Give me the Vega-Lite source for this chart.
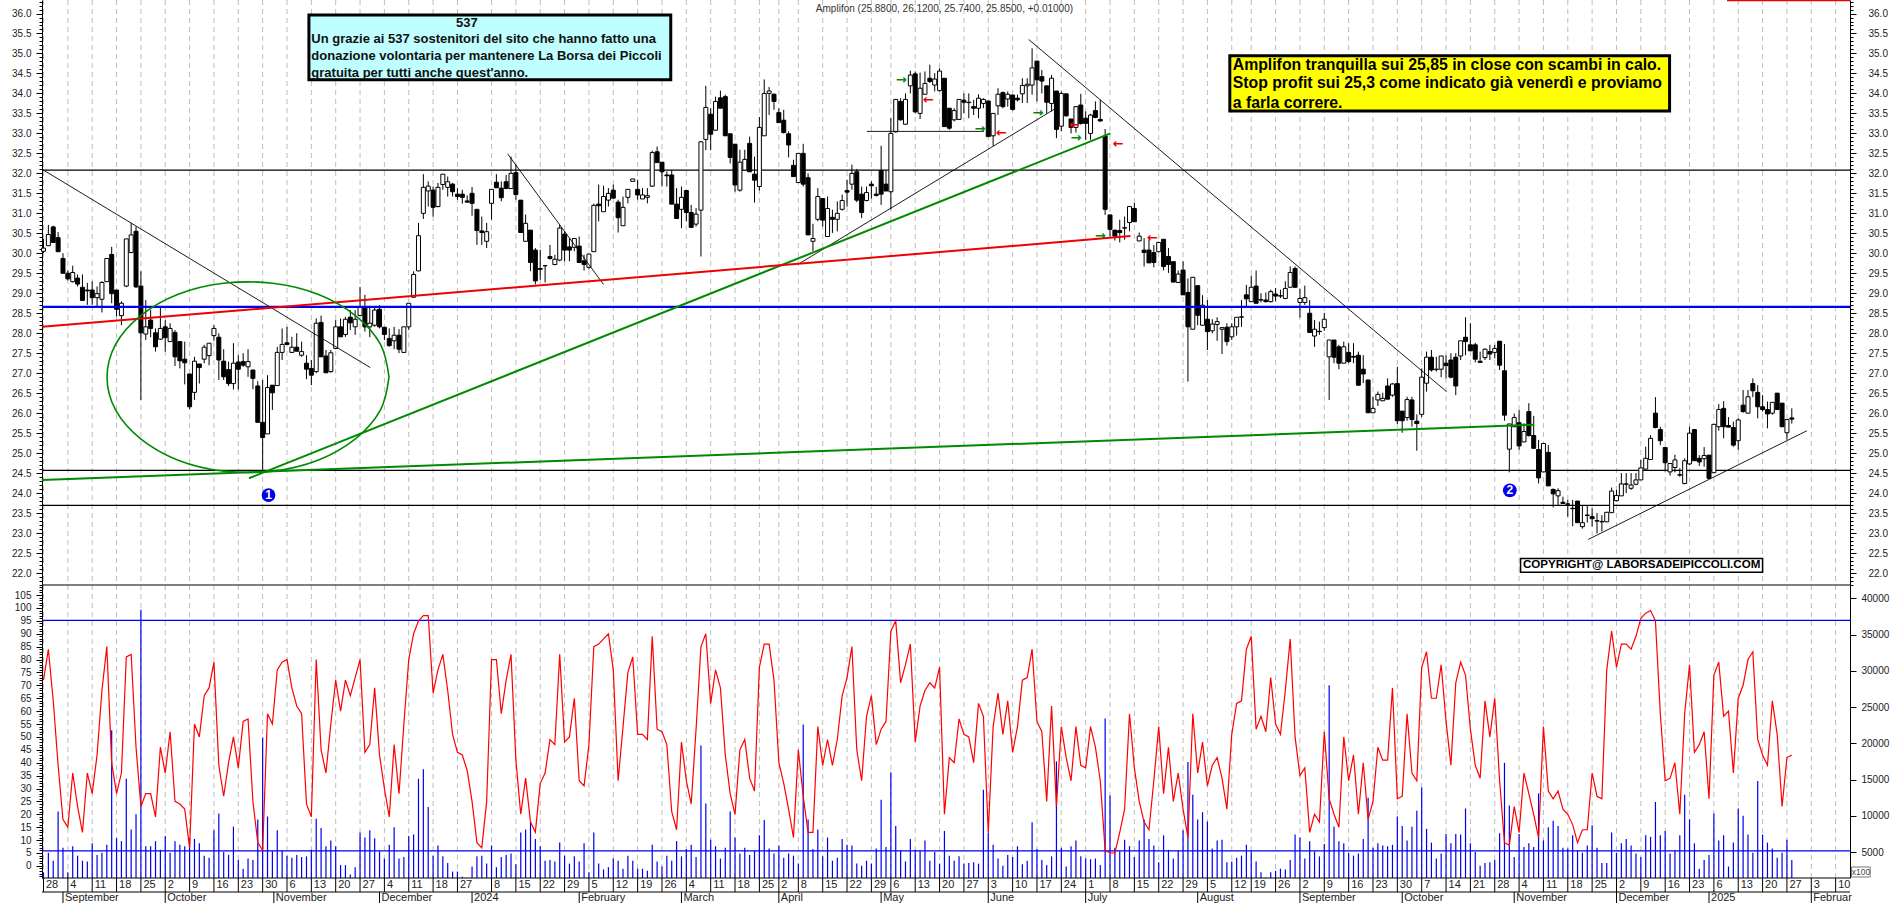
{"$schema":"https://vega.github.io/schema/vega-lite/v6.json","width":1890,"height":903,"padding":0,"autosize":{"type":"none"},"background":"white","config":{"view":{"stroke":null}},
"datasets":{
"weeks":[{"i":0,"t":"28"},{"i":5,"t":"4"},{"i":10,"t":"11"},{"i":15,"t":"18"},{"i":20,"t":"25"},{"i":25,"t":"2"},{"i":30,"t":"9"},{"i":35,"t":"16"},{"i":40,"t":"23"},{"i":45,"t":"30"},{"i":50,"t":"6"},{"i":55,"t":"13"},{"i":60,"t":"20"},{"i":65,"t":"27"},{"i":70,"t":"4"},{"i":75,"t":"11"},{"i":80,"t":"18"},{"i":85,"t":"27"},{"i":92,"t":"8"},{"i":97,"t":"15"},{"i":102,"t":"22"},{"i":107,"t":"29"},{"i":112,"t":"5"},{"i":117,"t":"12"},{"i":122,"t":"19"},{"i":127,"t":"26"},{"i":132,"t":"4"},{"i":137,"t":"11"},{"i":142,"t":"18"},{"i":147,"t":"25"},{"i":151,"t":"2"},{"i":155,"t":"8"},{"i":160,"t":"15"},{"i":165,"t":"22"},{"i":170,"t":"29"},{"i":174,"t":"6"},{"i":179,"t":"13"},{"i":184,"t":"20"},{"i":189,"t":"27"},{"i":194,"t":"3"},{"i":199,"t":"10"},{"i":204,"t":"17"},{"i":209,"t":"24"},{"i":214,"t":"1"},{"i":219,"t":"8"},{"i":224,"t":"15"},{"i":229,"t":"22"},{"i":234,"t":"29"},{"i":239,"t":"5"},{"i":244,"t":"12"},{"i":248,"t":"19"},{"i":253,"t":"26"},{"i":258,"t":"2"},{"i":263,"t":"9"},{"i":268,"t":"16"},{"i":273,"t":"23"},{"i":278,"t":"30"},{"i":283,"t":"7"},{"i":288,"t":"14"},{"i":293,"t":"21"},{"i":298,"t":"28"},{"i":303,"t":"4"},{"i":308,"t":"11"},{"i":313,"t":"18"},{"i":318,"t":"25"},{"i":323,"t":"2"},{"i":328,"t":"9"},{"i":333,"t":"16"},{"i":338,"t":"23"},{"i":343,"t":"6"},{"i":348,"t":"13"},{"i":353,"t":"20"},{"i":358,"t":"27"},{"i":363,"t":"3"},{"i":368,"t":"10"}],
"months":[{"i":4,"t":"September"},{"i":25,"t":"October"},{"i":47.3,"t":"November"},{"i":69,"t":"December"},{"i":88,"t":"2024"},{"i":110,"t":"February"},{"i":131,"t":"March"},{"i":151,"t":"April"},{"i":172,"t":"May"},{"i":194,"t":"June"},{"i":214,"t":"July"},{"i":237,"t":"August"},{"i":258,"t":"September"},{"i":279,"t":"October"},{"i":302,"t":"November"},{"i":323,"t":"December"},{"i":342,"t":"2025"},{"i":363,"t":"Februar"}],
"ellipse":[{"k":0,"i":70.95,"y":26.9},{"k":1,"i":69.2,"y":27.72},{"k":2,"i":64.18,"y":28.43},{"k":3,"i":56.48,"y":28.97},{"k":4,"i":47.03,"y":29.25},{"k":5,"i":36.97,"y":29.25},{"k":6,"i":27.52,"y":28.97},{"k":7,"i":19.82,"y":28.43},{"k":8,"i":14.8,"y":27.72},{"k":9,"i":13.05,"y":26.9},{"k":10,"i":14.8,"y":26.08},{"k":11,"i":19.82,"y":25.37},{"k":12,"i":27.52,"y":24.83},{"k":13,"i":36.97,"y":24.55},{"k":14,"i":47.03,"y":24.55},{"k":15,"i":56.48,"y":24.83},{"k":16,"i":64.18,"y":25.37},{"k":17,"i":69.2,"y":26.08},{"k":18,"i":70.95,"y":26.9}],
"rows":[
{"i":0,"o":30.05,"h":30.36,"l":30.01,"c":30.13,"v":2200,"s":72},{"i":1,"o":30.19,"h":30.71,"l":30.19,"c":30.47,"v":4900,"s":84},{"i":2,"o":30.66,"h":30.69,"l":30.27,"c":30.27,"v":3800,"s":64},{"i":3,"o":30.39,"h":30.53,"l":30.04,"c":30.04,"v":10600,"s":39},{"i":4,"o":29.87,"h":30.0,"l":29.5,"c":29.5,"v":5600,"s":18},{"i":5,"o":29.5,"h":29.57,"l":29.32,"c":29.36,"v":2200,"s":15},{"i":6,"o":29.29,"h":29.69,"l":29.27,"c":29.52,"v":5800,"s":36},{"i":7,"o":29.38,"h":29.47,"l":29.17,"c":29.23,"v":4500,"s":23},{"i":8,"o":29.15,"h":29.47,"l":28.82,"c":28.82,"v":3800,"s":13},{"i":9,"o":29.08,"h":29.26,"l":28.71,"c":29.06,"v":3700,"s":36},{"i":10,"o":29.08,"h":29.3,"l":28.71,"c":28.89,"v":6200,"s":28},{"i":11,"o":28.89,"h":29.17,"l":28.67,"c":28.99,"v":4600,"s":43},{"i":12,"o":28.85,"h":29.3,"l":28.52,"c":29.27,"v":4900,"s":68},{"i":13,"o":29.29,"h":29.87,"l":29.29,"c":29.87,"v":6000,"s":85},{"i":14,"o":29.97,"h":30.16,"l":28.75,"c":28.99,"v":21800,"s":40},{"i":15,"o":29.08,"h":29.08,"l":28.42,"c":28.6,"v":6900,"s":28},{"i":16,"o":28.44,"h":28.8,"l":28.2,"c":28.75,"v":6500,"s":36},{"i":17,"o":29.18,"h":30.36,"l":29.15,"c":30.36,"v":15100,"s":81},{"i":18,"o":30.02,"h":30.76,"l":30.0,"c":30.46,"v":8100,"s":82},{"i":19,"o":30.55,"h":30.67,"l":29.13,"c":29.16,"v":10200,"s":46},{"i":20,"o":29.18,"h":29.55,"l":26.33,"c":28.01,"v":38400,"s":23},{"i":21,"o":27.98,"h":28.83,"l":27.83,"c":28.16,"v":5800,"s":28},{"i":22,"o":28.33,"h":28.58,"l":27.9,"c":28.12,"v":5800,"s":28},{"i":23,"o":28.01,"h":28.12,"l":27.54,"c":27.66,"v":6500,"s":19},{"i":24,"o":27.85,"h":28.67,"l":27.83,"c":28.12,"v":5300,"s":46},{"i":25,"o":28.16,"h":28.33,"l":27.54,"c":27.89,"v":7200,"s":36},{"i":26,"o":27.79,"h":28.25,"l":27.79,"c":28.12,"v":4900,"s":52},{"i":27,"o":28.02,"h":28.08,"l":27.18,"c":27.41,"v":6500,"s":25},{"i":28,"o":27.79,"h":27.79,"l":27.12,"c":27.31,"v":6000,"s":24},{"i":29,"o":27.35,"h":27.79,"l":26.72,"c":27.26,"v":5800,"s":22},{"i":30,"o":26.98,"h":26.98,"l":26.1,"c":26.16,"v":6900,"s":7},{"i":31,"o":26.52,"h":27.41,"l":26.33,"c":27.3,"v":6800,"s":55},{"i":32,"o":27.23,"h":27.23,"l":26.74,"c":27.14,"v":6200,"s":50},{"i":33,"o":27.35,"h":27.71,"l":27.25,"c":27.65,"v":4500,"s":66},{"i":34,"o":27.44,"h":27.75,"l":27.2,"c":27.75,"v":4200,"s":69},{"i":35,"o":27.94,"h":28.2,"l":27.81,"c":28.12,"v":8000,"s":79},{"i":36,"o":27.9,"h":28.0,"l":26.83,"c":27.33,"v":10300,"s":39},{"i":37,"o":27.3,"h":27.6,"l":26.83,"c":26.91,"v":5000,"s":27},{"i":38,"o":27.09,"h":27.29,"l":26.68,"c":26.74,"v":4600,"s":40},{"i":39,"o":26.74,"h":27.75,"l":26.59,"c":27.25,"v":8500,"s":50},{"i":40,"o":27.28,"h":27.45,"l":26.59,"c":27.1,"v":3900,"s":38},{"i":41,"o":27.29,"h":27.5,"l":27.16,"c":27.2,"v":2700,"s":56},{"i":42,"o":27.16,"h":27.6,"l":26.91,"c":27.29,"v":4100,"s":57},{"i":43,"o":27.08,"h":27.08,"l":26.6,"c":26.87,"v":3900,"s":25},{"i":44,"o":26.68,"h":26.8,"l":25.77,"c":25.77,"v":9500,"s":9},{"i":45,"o":25.77,"h":26.83,"l":24.58,"c":25.39,"v":20800,"s":6},{"i":46,"o":25.48,"h":26.95,"l":25.48,"c":26.64,"v":9900,"s":59},{"i":47,"o":26.7,"h":26.7,"l":26.08,"c":26.51,"v":5100,"s":55},{"i":48,"o":26.69,"h":27.66,"l":26.69,"c":27.52,"v":8000,"s":76},{"i":49,"o":27.52,"h":28.12,"l":27.33,"c":27.72,"v":5200,"s":79},
{"i":50,"o":27.76,"h":28.16,"l":27.72,"c":27.72,"v":4500,"s":80},{"i":51,"o":27.52,"h":27.91,"l":27.51,"c":27.65,"v":4200,"s":69},{"i":52,"o":27.65,"h":28.0,"l":27.54,"c":27.55,"v":4600,"s":62},{"i":53,"o":27.45,"h":27.79,"l":27.41,"c":27.54,"v":4300,"s":59},{"i":54,"o":27.25,"h":27.45,"l":26.85,"c":27.1,"v":4400,"s":24},{"i":55,"o":27.12,"h":27.33,"l":26.7,"c":26.95,"v":5300,"s":19},{"i":56,"o":27.04,"h":28.37,"l":27.0,"c":28.25,"v":9600,"s":80},{"i":57,"o":28.27,"h":28.44,"l":27.41,"c":27.41,"v":8300,"s":45},{"i":58,"o":27.43,"h":27.58,"l":27.01,"c":27.01,"v":5800,"s":36},{"i":59,"o":27.04,"h":27.58,"l":27.01,"c":27.51,"v":6600,"s":55},{"i":60,"o":27.62,"h":28.33,"l":27.6,"c":28.16,"v":5800,"s":72},{"i":61,"o":28.16,"h":28.37,"l":27.91,"c":27.91,"v":3200,"s":60},{"i":62,"o":27.97,"h":28.41,"l":27.91,"c":28.35,"v":3200,"s":72},{"i":63,"o":28.4,"h":28.58,"l":28.08,"c":28.26,"v":1900,"s":66},{"i":64,"o":28.16,"h":28.58,"l":27.96,"c":28.35,"v":2900,"s":73},{"i":65,"o":28.44,"h":29.16,"l":28.44,"c":28.66,"v":7700,"s":80},{"i":66,"o":28.66,"h":28.96,"l":28.04,"c":28.16,"v":7000,"s":44},{"i":67,"o":28.16,"h":28.66,"l":27.9,"c":28.25,"v":8000,"s":47},{"i":68,"o":28.2,"h":28.66,"l":28.16,"c":28.58,"v":6900,"s":69},{"i":69,"o":28.6,"h":28.7,"l":28.12,"c":28.16,"v":5100,"s":43},{"i":70,"o":28.15,"h":28.15,"l":27.83,"c":27.97,"v":4100,"s":30},{"i":71,"o":27.87,"h":28.12,"l":27.66,"c":27.69,"v":6000,"s":19},{"i":72,"o":27.81,"h":28.16,"l":27.6,"c":27.95,"v":8400,"s":47},{"i":73,"o":27.95,"h":28.1,"l":27.5,"c":27.6,"v":4100,"s":28},{"i":74,"o":27.52,"h":28.16,"l":27.52,"c":28.16,"v":4300,"s":55},{"i":75,"o":28.16,"h":28.75,"l":28.08,"c":28.75,"v":7200,"s":80},{"i":76,"o":28.9,"h":29.55,"l":28.9,"c":29.47,"v":7400,"s":90},{"i":77,"o":29.56,"h":30.76,"l":29.55,"c":30.44,"v":15100,"s":95},{"i":78,"o":31.0,"h":31.98,"l":30.86,"c":31.65,"v":16400,"s":97},{"i":79,"o":31.56,"h":31.8,"l":31.17,"c":31.68,"v":11200,"s":97},{"i":80,"o":31.58,"h":31.67,"l":30.92,"c":31.15,"v":4500,"s":67},{"i":81,"o":31.17,"h":31.76,"l":31.15,"c":31.65,"v":5900,"s":76},{"i":82,"o":31.72,"h":31.98,"l":31.59,"c":31.98,"v":4400,"s":82},{"i":83,"o":31.65,"h":31.92,"l":31.42,"c":31.79,"v":3500,"s":68},{"i":84,"o":31.73,"h":31.76,"l":31.42,"c":31.54,"v":2300,"s":51},{"i":85,"o":31.48,"h":31.63,"l":31.34,"c":31.42,"v":2300,"s":44},{"i":86,"o":31.48,"h":31.59,"l":31.24,"c":31.4,"v":1600,"s":43},{"i":87,"o":31.31,"h":31.45,"l":31.27,"c":31.28,"v":1400,"s":37},{"i":88,"o":31.5,"h":31.66,"l":30.94,"c":31.25,"v":3000,"s":25},{"i":89,"o":31.1,"h":31.1,"l":30.21,"c":30.57,"v":4400,"s":9},{"i":90,"o":30.56,"h":30.92,"l":30.21,"c":30.52,"v":4500,"s":7},{"i":91,"o":30.3,"h":30.76,"l":30.13,"c":30.54,"v":3400,"s":25},{"i":92,"o":31.25,"h":31.6,"l":30.84,"c":31.6,"v":5900,"s":80},{"i":93,"o":31.78,"h":31.98,"l":31.63,"c":31.64,"v":2900,"s":80},{"i":94,"o":31.63,"h":31.8,"l":31.3,"c":31.39,"v":4300,"s":59},{"i":95,"o":31.79,"h":31.96,"l":31.62,"c":31.62,"v":4600,"s":72},{"i":96,"o":31.62,"h":32.42,"l":31.62,"c":32.0,"v":4800,"s":82},{"i":97,"o":32.02,"h":32.22,"l":31.34,"c":31.47,"v":3300,"s":41},{"i":98,"o":31.33,"h":31.33,"l":30.52,"c":30.52,"v":7700,"s":20},{"i":99,"o":30.3,"h":30.97,"l":30.3,"c":30.75,"v":8100,"s":34},
{"i":100,"o":30.58,"h":30.58,"l":29.55,"c":29.77,"v":9200,"s":17},{"i":101,"o":30.08,"h":30.13,"l":29.22,"c":29.31,"v":6800,"s":13},{"i":102,"o":29.62,"h":30.09,"l":29.34,"c":29.6,"v":5800,"s":32},{"i":103,"o":29.69,"h":29.7,"l":29.27,"c":29.69,"v":3800,"s":36},{"i":104,"o":29.92,"h":30.21,"l":29.84,"c":29.87,"v":3900,"s":49},{"i":105,"o":29.72,"h":29.96,"l":29.7,"c":29.85,"v":3700,"s":47},{"i":106,"o":29.83,"h":30.71,"l":29.8,"c":30.63,"v":6300,"s":82},{"i":107,"o":30.48,"h":30.55,"l":29.8,"c":30.08,"v":4500,"s":48},{"i":108,"o":30.16,"h":30.38,"l":29.8,"c":30.08,"v":3400,"s":50},{"i":109,"o":30.15,"h":30.37,"l":30.05,"c":30.37,"v":4400,"s":65},{"i":110,"o":30.18,"h":30.42,"l":29.76,"c":29.77,"v":3700,"s":33},{"i":111,"o":29.81,"h":29.96,"l":29.57,"c":29.72,"v":6200,"s":31},{"i":112,"o":29.65,"h":29.98,"l":29.6,"c":29.98,"v":2200,"s":47},{"i":113,"o":30.04,"h":31.24,"l":30.04,"c":31.2,"v":7700,"s":85},{"i":114,"o":31.23,"h":31.72,"l":30.8,"c":31.19,"v":3400,"s":86},{"i":115,"o":31.04,"h":31.69,"l":31.04,"c":31.42,"v":2600,"s":88},{"i":116,"o":31.33,"h":31.63,"l":31.17,"c":31.5,"v":2900,"s":90},{"i":117,"o":31.58,"h":31.72,"l":31.38,"c":31.38,"v":4100,"s":76},{"i":118,"o":31.28,"h":31.34,"l":30.52,"c":30.89,"v":3800,"s":33},{"i":119,"o":30.69,"h":31.42,"l":30.69,"c":31.15,"v":2700,"s":54},{"i":120,"o":31.4,"h":31.6,"l":31.25,"c":31.6,"v":4500,"s":75},{"i":121,"o":31.8,"h":31.86,"l":31.8,"c":31.86,"v":3800,"s":81},{"i":122,"o":31.6,"h":31.84,"l":31.34,"c":31.46,"v":2700,"s":51},{"i":123,"o":31.36,"h":31.63,"l":31.36,"c":31.46,"v":2700,"s":51},{"i":124,"o":31.4,"h":31.63,"l":31.25,"c":31.44,"v":2400,"s":49},{"i":125,"o":31.68,"h":32.57,"l":31.66,"c":32.52,"v":6000,"s":89},{"i":126,"o":32.54,"h":32.67,"l":32.26,"c":32.27,"v":3700,"s":53},{"i":127,"o":32.28,"h":32.28,"l":31.67,"c":32.04,"v":3000,"s":52},{"i":128,"o":31.96,"h":32.05,"l":31.67,"c":31.94,"v":4500,"s":47},{"i":129,"o":31.96,"h":32.09,"l":31.23,"c":31.23,"v":3800,"s":21},{"i":130,"o":31.23,"h":31.63,"l":30.87,"c":30.87,"v":6500,"s":14},{"i":131,"o":31.1,"h":31.67,"l":30.63,"c":31.4,"v":4400,"s":48},{"i":132,"o":31.57,"h":31.59,"l":30.8,"c":31.02,"v":5400,"s":33},{"i":133,"o":31.02,"h":31.21,"l":30.63,"c":30.65,"v":6000,"s":24},{"i":134,"o":30.73,"h":31.13,"l":30.67,"c":30.98,"v":4300,"s":53},{"i":135,"o":31.08,"h":32.79,"l":29.92,"c":32.79,"v":19700,"s":85},{"i":136,"o":32.85,"h":34.19,"l":32.58,"c":33.65,"v":11700,"s":90},{"i":137,"o":33.48,"h":33.63,"l":32.58,"c":32.98,"v":6700,"s":63},{"i":138,"o":33.08,"h":33.92,"l":33.07,"c":33.8,"v":5800,"s":76},{"i":139,"o":33.89,"h":34.07,"l":33.63,"c":33.63,"v":4100,"s":69},{"i":140,"o":33.92,"h":33.97,"l":32.94,"c":32.94,"v":5600,"s":43},{"i":141,"o":32.99,"h":32.99,"l":32.25,"c":32.4,"v":10600,"s":28},{"i":142,"o":32.73,"h":32.73,"l":31.54,"c":31.71,"v":7000,"s":20},{"i":143,"o":31.58,"h":32.59,"l":31.54,"c":32.28,"v":4800,"s":45},{"i":144,"o":32.08,"h":32.59,"l":32.08,"c":32.35,"v":5600,"s":49},{"i":145,"o":32.75,"h":32.92,"l":32.04,"c":32.04,"v":4600,"s":34},{"i":146,"o":31.98,"h":32.42,"l":31.27,"c":31.83,"v":5200,"s":29},{"i":147,"o":31.67,"h":33.41,"l":31.57,"c":33.15,"v":7300,"s":77},{"i":148,"o":32.94,"h":34.35,"l":32.94,"c":34.0,"v":9400,"s":86},{"i":149,"o":34.0,"h":34.16,"l":33.46,"c":34.06,"v":5500,"s":86},
{"i":150,"o":33.98,"h":34.0,"l":33.59,"c":33.8,"v":4800,"s":72},{"i":151,"o":33.52,"h":33.63,"l":33.27,"c":33.27,"v":5900,"s":40},{"i":152,"o":33.33,"h":33.59,"l":33.0,"c":33.02,"v":4200,"s":32},{"i":153,"o":32.99,"h":33.05,"l":32.4,"c":32.71,"v":4800,"s":22},{"i":154,"o":32.2,"h":32.34,"l":31.92,"c":31.92,"v":4500,"s":11},{"i":155,"o":31.77,"h":32.5,"l":31.76,"c":32.5,"v":3400,"s":45},{"i":156,"o":32.5,"h":32.74,"l":31.67,"c":31.73,"v":22600,"s":27},{"i":157,"o":31.89,"h":32.0,"l":30.46,"c":30.46,"v":9500,"s":13},{"i":158,"o":30.3,"h":30.74,"l":30.05,"c":30.37,"v":5400,"s":13},{"i":159,"o":30.85,"h":31.63,"l":30.8,"c":31.42,"v":8100,"s":54},{"i":160,"o":31.37,"h":31.37,"l":30.67,"c":30.83,"v":4400,"s":39},{"i":161,"o":30.42,"h":31.42,"l":30.41,"c":31.12,"v":7000,"s":49},{"i":162,"o":30.9,"h":31.09,"l":30.51,"c":30.85,"v":3800,"s":39},{"i":163,"o":30.85,"h":31.3,"l":30.55,"c":31.0,"v":4200,"s":49},{"i":164,"o":31.1,"h":31.47,"l":31.07,"c":31.32,"v":6800,"s":66},{"i":165,"o":31.57,"h":31.84,"l":31.17,"c":31.53,"v":6000,"s":73},{"i":166,"o":31.73,"h":32.22,"l":31.59,"c":32.0,"v":5900,"s":85},{"i":167,"o":32.04,"h":32.11,"l":31.28,"c":31.33,"v":3400,"s":45},{"i":168,"o":31.48,"h":31.67,"l":30.88,"c":31.02,"v":3100,"s":33},{"i":169,"o":31.32,"h":31.67,"l":31.3,"c":31.52,"v":3800,"s":58},{"i":170,"o":31.73,"h":31.8,"l":31.37,"c":31.69,"v":3400,"s":66},{"i":171,"o":31.48,"h":31.66,"l":31.42,"c":31.45,"v":5500,"s":47},{"i":172,"o":32.07,"h":32.69,"l":31.21,"c":31.48,"v":12200,"s":53},{"i":173,"o":31.73,"h":32.07,"l":31.55,"c":31.56,"v":5700,"s":56},{"i":174,"o":31.54,"h":33.38,"l":31.1,"c":33.0,"v":16000,"s":91},{"i":175,"o":33.04,"h":33.85,"l":33.02,"c":33.85,"v":8600,"s":95},{"i":176,"o":33.8,"h":33.88,"l":33.32,"c":33.34,"v":5200,"s":71},{"i":177,"o":33.23,"h":34.0,"l":33.22,"c":33.85,"v":3700,"s":78},{"i":178,"o":34.19,"h":34.57,"l":34.0,"c":34.46,"v":6800,"s":86},{"i":179,"o":34.49,"h":34.55,"l":33.5,"c":33.54,"v":5300,"s":48},{"i":180,"o":33.5,"h":34.52,"l":33.36,"c":34.13,"v":5200,"s":62},{"i":181,"o":33.98,"h":34.55,"l":33.98,"c":34.25,"v":6600,"s":68},{"i":182,"o":34.38,"h":34.72,"l":34.26,"c":34.3,"v":3800,"s":71},{"i":183,"o":34.21,"h":34.51,"l":34.05,"c":34.36,"v":5000,"s":69},{"i":184,"o":34.07,"h":34.63,"l":34.05,"c":34.56,"v":3400,"s":77},{"i":185,"o":34.38,"h":34.38,"l":33.17,"c":33.17,"v":7900,"s":20},{"i":186,"o":33.63,"h":33.63,"l":33.09,"c":33.13,"v":4500,"s":42},{"i":187,"o":33.34,"h":33.63,"l":33.3,"c":33.57,"v":3800,"s":40},{"i":188,"o":33.35,"h":33.85,"l":33.35,"c":33.85,"v":4400,"s":57},{"i":189,"o":33.83,"h":34.0,"l":33.5,"c":33.78,"v":3400,"s":51},{"i":190,"o":33.78,"h":34.0,"l":33.38,"c":33.77,"v":3500,"s":50},{"i":191,"o":33.67,"h":33.84,"l":33.46,"c":33.63,"v":3600,"s":40},{"i":192,"o":33.63,"h":33.98,"l":33.38,"c":33.88,"v":3400,"s":63},{"i":193,"o":33.75,"h":33.88,"l":33.63,"c":33.85,"v":13600,"s":58},{"i":194,"o":33.81,"h":33.81,"l":32.92,"c":32.92,"v":7700,"s":13},{"i":195,"o":32.94,"h":33.5,"l":32.69,"c":33.5,"v":6000,"s":54},{"i":196,"o":33.69,"h":34.13,"l":33.46,"c":33.98,"v":4100,"s":67},{"i":197,"o":34.02,"h":34.05,"l":33.63,"c":33.67,"v":3100,"s":51},{"i":198,"o":33.86,"h":34.05,"l":33.67,"c":33.98,"v":4600,"s":64},{"i":199,"o":33.96,"h":33.96,"l":33.57,"c":33.6,"v":4300,"s":44},
{"i":200,"o":33.88,"h":33.97,"l":33.8,"c":33.84,"v":5800,"s":54},{"i":201,"o":33.99,"h":34.38,"l":33.76,"c":34.2,"v":3300,"s":72},{"i":202,"o":34.19,"h":34.38,"l":33.76,"c":34.23,"v":3800,"s":73},{"i":203,"o":34.21,"h":35.13,"l":33.97,"c":34.64,"v":9100,"s":84},{"i":204,"o":34.81,"h":34.81,"l":33.8,"c":34.34,"v":5400,"s":56},{"i":205,"o":34.42,"h":34.59,"l":34.0,"c":34.31,"v":3900,"s":52},{"i":206,"o":34.19,"h":34.19,"l":33.5,"c":33.78,"v":3200,"s":25},{"i":207,"o":33.75,"h":34.46,"l":33.55,"c":34.38,"v":4400,"s":62},{"i":208,"o":34.06,"h":34.06,"l":32.88,"c":33.1,"v":17500,"s":23},{"i":209,"o":33.18,"h":34.05,"l":33.05,"c":34.0,"v":5600,"s":54},{"i":210,"o":33.99,"h":33.99,"l":33.42,"c":33.44,"v":3000,"s":42},{"i":211,"o":33.36,"h":33.36,"l":33.0,"c":33.15,"v":5800,"s":33},{"i":212,"o":33.15,"h":33.67,"l":33.02,"c":33.67,"v":6600,"s":54},{"i":213,"o":33.71,"h":33.99,"l":33.22,"c":33.25,"v":4400,"s":39},{"i":214,"o":33.38,"h":33.55,"l":32.84,"c":33.25,"v":4100,"s":38},{"i":215,"o":33.0,"h":33.49,"l":32.84,"c":33.46,"v":4000,"s":54},{"i":216,"o":33.57,"h":33.8,"l":33.38,"c":33.4,"v":4100,"s":46},{"i":217,"o":33.35,"h":33.84,"l":33.3,"c":33.31,"v":3200,"s":33},{"i":218,"o":32.94,"h":33.11,"l":30.96,"c":31.1,"v":23400,"s":6},{"i":219,"o":30.96,"h":30.96,"l":30.42,"c":30.6,"v":12800,"s":5},{"i":220,"o":30.58,"h":30.58,"l":30.32,"c":30.43,"v":5600,"s":5},{"i":221,"o":30.57,"h":30.84,"l":30.27,"c":30.52,"v":5100,"s":13},{"i":222,"o":30.64,"h":30.92,"l":30.34,"c":30.63,"v":6700,"s":22},{"i":223,"o":30.77,"h":31.17,"l":30.55,"c":31.17,"v":5800,"s":59},{"i":224,"o":31.12,"h":31.26,"l":30.79,"c":30.79,"v":4300,"s":38},{"i":225,"o":30.31,"h":30.52,"l":30.3,"c":30.43,"v":6600,"s":25},{"i":226,"o":30.08,"h":30.38,"l":29.67,"c":30.02,"v":9500,"s":17},{"i":227,"o":30.08,"h":30.34,"l":29.76,"c":29.76,"v":6800,"s":14},{"i":228,"o":30.02,"h":30.21,"l":29.65,"c":29.77,"v":5900,"s":33},{"i":229,"o":30.04,"h":30.29,"l":30.04,"c":30.27,"v":3600,"s":54},{"i":230,"o":30.35,"h":30.35,"l":29.57,"c":29.67,"v":7300,"s":28},{"i":231,"o":29.92,"h":30.13,"l":29.51,"c":29.72,"v":5300,"s":46},{"i":232,"o":29.79,"h":29.79,"l":29.27,"c":29.28,"v":4100,"s":25},{"i":233,"o":29.27,"h":29.57,"l":29.27,"c":29.48,"v":5200,"s":36},{"i":234,"o":29.58,"h":29.8,"l":28.96,"c":28.96,"v":8000,"s":22},{"i":235,"o":29.02,"h":29.37,"l":26.79,"c":28.16,"v":17400,"s":11},{"i":236,"o":28.1,"h":29.4,"l":28.1,"c":29.4,"v":12900,"s":59},{"i":237,"o":29.19,"h":29.19,"l":28.2,"c":28.45,"v":9500,"s":36},{"i":238,"o":28.2,"h":28.95,"l":28.2,"c":28.7,"v":10500,"s":48},{"i":239,"o":28.35,"h":28.83,"l":27.58,"c":28.04,"v":9200,"s":31},{"i":240,"o":28.06,"h":28.35,"l":28.0,"c":28.23,"v":5500,"s":39},{"i":241,"o":28.22,"h":28.4,"l":27.81,"c":28.29,"v":6600,"s":42},{"i":242,"o":28.1,"h":28.15,"l":27.48,"c":28.14,"v":6700,"s":34},{"i":243,"o":28.15,"h":28.25,"l":27.69,"c":27.79,"v":3600,"s":22},{"i":244,"o":27.91,"h":28.25,"l":27.83,"c":28.16,"v":3700,"s":51},{"i":245,"o":28.16,"h":28.4,"l":27.94,"c":28.4,"v":4200,"s":63},{"i":246,"o":28.4,"h":28.83,"l":28.16,"c":28.41,"v":4500,"s":64},{"i":247,"o":28.96,"h":29.21,"l":28.63,"c":28.86,"v":6000,"s":84},{"i":248,"o":28.79,"h":29.44,"l":28.79,"c":29.15,"v":5100,"s":89},{"i":249,"o":29.18,"h":29.57,"l":28.75,"c":28.75,"v":3700,"s":53},
{"i":250,"o":28.83,"h":29.0,"l":28.77,"c":28.84,"v":2200,"s":58},{"i":251,"o":28.83,"h":29.02,"l":28.77,"c":28.79,"v":1500,"s":52},{"i":252,"o":28.79,"h":29.09,"l":28.77,"c":29.04,"v":2200,"s":73},{"i":253,"o":28.98,"h":29.13,"l":28.8,"c":28.93,"v":2400,"s":55},{"i":254,"o":28.93,"h":29.09,"l":28.88,"c":28.94,"v":2700,"s":51},{"i":255,"o":28.87,"h":29.3,"l":28.85,"c":29.12,"v":2600,"s":68},{"i":256,"o":29.15,"h":29.67,"l":29.13,"c":29.52,"v":3900,"s":88},{"i":257,"o":29.62,"h":29.67,"l":29.13,"c":29.15,"v":7400,"s":50},{"i":258,"o":28.77,"h":29.11,"l":28.39,"c":28.87,"v":7000,"s":35},{"i":259,"o":28.77,"h":29.19,"l":28.71,"c":28.89,"v":4100,"s":38},{"i":260,"o":28.5,"h":28.83,"l":28.02,"c":28.02,"v":6500,"s":13},{"i":261,"o":27.93,"h":28.33,"l":27.66,"c":28.1,"v":5100,"s":20},{"i":262,"o":28.05,"h":28.29,"l":27.96,"c":28.04,"v":4400,"s":17},{"i":263,"o":28.14,"h":28.51,"l":28.06,"c":28.35,"v":6100,"s":52},{"i":264,"o":27.41,"h":27.83,"l":26.33,"c":27.83,"v":28000,"s":26},{"i":265,"o":27.83,"h":27.83,"l":27.25,"c":27.4,"v":8500,"s":20},{"i":266,"o":27.66,"h":27.71,"l":27.1,"c":27.25,"v":6500,"s":15},{"i":267,"o":27.25,"h":27.79,"l":27.25,"c":27.66,"v":6200,"s":50},{"i":268,"o":27.52,"h":27.75,"l":27.25,"c":27.29,"v":4900,"s":33},{"i":269,"o":27.42,"h":27.75,"l":27.25,"c":27.4,"v":4500,"s":43},{"i":270,"o":27.45,"h":27.54,"l":26.68,"c":26.7,"v":4800,"s":20},{"i":271,"o":27.1,"h":27.45,"l":26.75,"c":26.98,"v":6800,"s":40},{"i":272,"o":26.83,"h":26.83,"l":26.01,"c":26.01,"v":12500,"s":18},{"i":273,"o":26.01,"h":26.41,"l":26.01,"c":26.12,"v":5600,"s":25},{"i":274,"o":26.33,"h":26.54,"l":26.18,"c":26.47,"v":6200,"s":46},{"i":275,"o":26.31,"h":26.51,"l":26.3,"c":26.37,"v":5900,"s":41},{"i":276,"o":26.68,"h":26.87,"l":26.35,"c":26.35,"v":5800,"s":41},{"i":277,"o":26.45,"h":26.75,"l":26.41,"c":26.73,"v":6000,"s":69},{"i":278,"o":26.74,"h":27.16,"l":25.73,"c":25.81,"v":9900,"s":26},{"i":279,"o":26.05,"h":26.05,"l":25.51,"c":25.81,"v":8600,"s":27},{"i":280,"o":25.89,"h":26.41,"l":25.81,"c":26.34,"v":6600,"s":59},{"i":281,"o":26.33,"h":26.41,"l":25.66,"c":25.84,"v":8500,"s":36},{"i":282,"o":25.8,"h":25.97,"l":25.06,"c":25.74,"v":10700,"s":33},{"i":283,"o":25.97,"h":27.12,"l":25.9,"c":26.9,"v":13900,"s":77},{"i":284,"o":26.75,"h":27.54,"l":26.54,"c":27.4,"v":8200,"s":83},{"i":285,"o":27.4,"h":27.58,"l":27.04,"c":27.08,"v":6300,"s":65},{"i":286,"o":27.1,"h":27.41,"l":27.04,"c":27.09,"v":4100,"s":65},{"i":287,"o":27.1,"h":27.43,"l":26.9,"c":27.43,"v":4800,"s":78},{"i":288,"o":27.25,"h":27.45,"l":26.87,"c":27.19,"v":7500,"s":56},{"i":289,"o":27.33,"h":27.5,"l":26.87,"c":26.9,"v":6200,"s":39},{"i":290,"o":27.4,"h":27.5,"l":26.45,"c":26.68,"v":7500,"s":71},{"i":291,"o":27.43,"h":27.81,"l":27.33,"c":27.81,"v":7400,"s":79},{"i":292,"o":27.9,"h":28.4,"l":27.45,"c":27.79,"v":11000,"s":74},{"i":293,"o":27.71,"h":28.25,"l":27.56,"c":27.56,"v":6200,"s":53},{"i":294,"o":27.71,"h":27.76,"l":27.27,"c":27.35,"v":5000,"s":39},{"i":295,"o":27.3,"h":27.54,"l":27.26,"c":27.27,"v":3100,"s":34},{"i":296,"o":27.39,"h":27.62,"l":27.33,"c":27.6,"v":3500,"s":64},{"i":297,"o":27.54,"h":27.71,"l":27.33,"c":27.48,"v":3600,"s":50},{"i":298,"o":27.52,"h":27.71,"l":27.37,"c":27.62,"v":3900,"s":65},{"i":299,"o":27.8,"h":27.8,"l":27.08,"c":27.2,"v":7600,"s":33},
{"i":300,"o":27.06,"h":27.73,"l":25.81,"c":25.95,"v":17300,"s":9},{"i":301,"o":25.1,"h":25.73,"l":24.52,"c":25.73,"v":11400,"s":8},{"i":302,"o":25.66,"h":25.99,"l":25.66,"c":25.89,"v":4300,"s":23},{"i":303,"o":25.76,"h":26.08,"l":25.08,"c":25.18,"v":7500,"s":13},{"i":304,"o":25.28,"h":25.75,"l":25.28,"c":25.54,"v":5700,"s":36},{"i":305,"o":26.04,"h":26.25,"l":25.41,"c":25.44,"v":6200,"s":28},{"i":306,"o":25.44,"h":25.93,"l":25.12,"c":25.12,"v":5700,"s":20},{"i":307,"o":25.09,"h":25.33,"l":24.24,"c":24.38,"v":13100,"s":11},{"i":308,"o":24.53,"h":25.24,"l":24.53,"c":25.24,"v":6600,"s":54},{"i":309,"o":25.02,"h":25.2,"l":24.18,"c":24.18,"v":8400,"s":29},{"i":310,"o":24.09,"h":24.12,"l":23.64,"c":23.98,"v":9300,"s":26},{"i":311,"o":23.93,"h":24.12,"l":23.7,"c":24.06,"v":8600,"s":29},{"i":312,"o":23.77,"h":23.91,"l":23.73,"c":23.74,"v":5600,"s":22},{"i":313,"o":23.73,"h":23.83,"l":23.41,"c":23.72,"v":5500,"s":20},{"i":314,"o":23.62,"h":23.83,"l":23.17,"c":23.61,"v":7300,"s":16},{"i":315,"o":23.8,"h":23.8,"l":23.25,"c":23.26,"v":5200,"s":9},{"i":316,"o":23.16,"h":23.7,"l":23.11,"c":23.26,"v":4900,"s":14},{"i":317,"o":23.45,"h":23.68,"l":23.26,"c":23.44,"v":5900,"s":14},{"i":318,"o":23.41,"h":23.62,"l":23.16,"c":23.36,"v":8700,"s":36},{"i":319,"o":23.31,"h":23.5,"l":22.99,"c":23.3,"v":5600,"s":27},{"i":320,"o":23.29,"h":23.45,"l":23.04,"c":23.28,"v":3500,"s":26},{"i":321,"o":23.28,"h":23.52,"l":23.28,"c":23.52,"v":3500,"s":76},{"i":322,"o":23.51,"h":24.14,"l":23.5,"c":24.05,"v":7700,"s":91},{"i":323,"o":23.81,"h":24.08,"l":23.79,"c":23.94,"v":4900,"s":77},{"i":324,"o":23.93,"h":24.5,"l":23.93,"c":24.23,"v":6200,"s":86},{"i":325,"o":24.22,"h":24.5,"l":24.0,"c":24.23,"v":6800,"s":86},{"i":326,"o":24.12,"h":24.5,"l":24.08,"c":24.2,"v":5900,"s":84},{"i":327,"o":24.22,"h":24.5,"l":24.2,"c":24.33,"v":4800,"s":89},{"i":328,"o":24.33,"h":24.83,"l":24.33,"c":24.63,"v":4300,"s":96},{"i":329,"o":24.6,"h":25.16,"l":24.58,"c":24.87,"v":7300,"s":98},{"i":330,"o":24.84,"h":25.45,"l":24.84,"c":25.37,"v":7100,"s":99},{"i":331,"o":26.0,"h":26.4,"l":25.62,"c":25.64,"v":11900,"s":95},{"i":332,"o":25.59,"h":25.66,"l":25.2,"c":25.31,"v":7300,"s":59},{"i":333,"o":25.14,"h":25.16,"l":24.54,"c":24.76,"v":7900,"s":33},{"i":334,"o":24.53,"h":24.74,"l":24.44,"c":24.74,"v":4800,"s":34},{"i":335,"o":24.64,"h":24.96,"l":24.52,"c":24.83,"v":5200,"s":40},{"i":336,"o":24.46,"h":24.62,"l":24.41,"c":24.45,"v":7300,"s":20},{"i":337,"o":24.24,"h":24.87,"l":24.22,"c":24.81,"v":12900,"s":59},{"i":338,"o":24.73,"h":25.66,"l":24.7,"c":25.5,"v":9500,"s":78},{"i":339,"o":25.59,"h":25.59,"l":24.81,"c":24.81,"v":6200,"s":44},{"i":340,"o":24.87,"h":24.95,"l":24.68,"c":24.78,"v":2700,"s":47},{"i":341,"o":24.86,"h":25.15,"l":24.66,"c":24.94,"v":3900,"s":52},{"i":342,"o":24.95,"h":24.95,"l":24.35,"c":24.37,"v":4600,"s":26},{"i":343,"o":24.51,"h":25.72,"l":24.5,"c":25.72,"v":10300,"s":74},{"i":344,"o":25.66,"h":26.23,"l":25.56,"c":26.09,"v":6600,"s":79},{"i":345,"o":26.12,"h":26.3,"l":25.37,"c":25.66,"v":7300,"s":58},{"i":346,"o":25.69,"h":25.9,"l":25.65,"c":25.65,"v":3000,"s":60},{"i":347,"o":25.64,"h":25.79,"l":25.16,"c":25.2,"v":6300,"s":36},{"i":348,"o":25.31,"h":25.87,"l":25.08,"c":25.83,"v":11000,"s":65},{"i":349,"o":26.2,"h":26.58,"l":26.01,"c":26.04,"v":10000,"s":70},
{"i":350,"o":26.0,"h":26.58,"l":26.0,"c":26.41,"v":7400,"s":80},{"i":351,"o":26.74,"h":26.87,"l":26.4,"c":26.56,"v":4900,"s":83},{"i":352,"o":26.52,"h":26.7,"l":25.87,"c":26.16,"v":14800,"s":49},{"i":353,"o":26.16,"h":26.45,"l":26.04,"c":26.09,"v":7400,"s":43},{"i":354,"o":26.09,"h":26.29,"l":25.62,"c":25.98,"v":6300,"s":39},{"i":355,"o":26.0,"h":26.27,"l":25.96,"c":26.27,"v":5500,"s":64},{"i":356,"o":26.5,"h":26.5,"l":26.08,"c":26.09,"v":4200,"s":51},{"i":357,"o":26.25,"h":26.25,"l":25.66,"c":25.66,"v":4900,"s":23},{"i":358,"o":25.51,"h":25.84,"l":25.33,"c":25.84,"v":6700,"s":42},{"i":359,"o":25.88,"h":26.12,"l":25.74,"c":25.85,"v":3900,"s":43}
]},
"encoding":{"x":{"field":"i","type":"quantitative","scale":{"domain":[-0.308,370.95],"range":[42,1850],"nice":false,"zero":false,"padding":0},"axis":null}},
"resolve":{"scale":{"y":"independent"},"axis":{"y":"independent"}},
"layer":[
{"data":{"name":"weeks"},"mark":{"type":"rule","color":"#bdbdbd","strokeDash":[5,4],"strokeWidth":1},"encoding":{"y":{"datum":36.338,"type":"quantitative","scale":{"domain":[21.7,36.338],"range":[585,0],"nice":false,"zero":false},"axis":{"orient":"left","offset":-42,"title":null,"grid":false,"tickCount":146,"labelOverlap":false,"labelBound":false,"labelFlush":false,"labelExpr":"abs(round(datum.value*10)%5)==0?format(datum.value,'.1f'):''","tickSize":{"condition":{"test":"abs(round(datum.value*10)%5)==0","value":6},"value":3},"labelPadding":5,"labelFont":"Liberation Sans","labelFontSize":10,"labelColor":"#222","domainColor":"#000","tickColor":"#000"}},"y2":{"datum":21.7}}},
{"data":{"name":"weeks"},"mark":{"type":"rule","color":"#bdbdbd","strokeDash":[5,4],"strokeWidth":1},"encoding":{"y":{"datum":108.9,"type":"quantitative","scale":{"domain":[-4.7,108.9],"range":[878,585],"nice":false,"zero":false},"axis":{"orient":"left","offset":-42,"title":null,"grid":false,"tickCount":114,"labelOverlap":false,"labelBound":false,"labelFlush":false,"labelExpr":"datum.value>=0&&datum.value%5==0?datum.label:''","tickSize":{"condition":{"test":"datum.value%5==0","value":6},"value":3},"labelPadding":5,"labelFont":"Liberation Sans","labelFontSize":10,"labelColor":"#222","domainColor":"#000","tickColor":"#000"}},"y2":{"datum":-4.7}}},
{"data":{"name":"rows"},"mark":{"type":"rule","color":"#0000ee","strokeWidth":1.2},"encoding":{"y":{"field":"v","type":"quantitative","scale":{"domain":[1417,41830],"range":[878,585],"nice":false,"zero":false},"axis":{"orient":"right","offset":-40,"title":null,"grid":false,"values":[5000,10000,15000,20000,25000,30000,35000,40000],"labelOverlap":false,"labelBound":false,"labelFlush":false,"tickSize":6,"labelPadding":5,"format":"d","labelFont":"Liberation Sans","labelFontSize":10,"labelColor":"#222","domainColor":"#000","tickColor":"#000"}},"y2":{"datum":1417}}},
{"data":{"values":[{"i":345.7,"j":370.95,"y":36.33}]},"mark":{"type":"rule","color":"#ee0000","strokeWidth":2},"encoding":{"x2":{"field":"j"},"y":{"field":"y","type":"quantitative","scale":{"domain":[21.7,36.338],"range":[585,0],"nice":false,"zero":false},"axis":{"orient":"right","offset":-40,"title":null,"grid":false,"tickCount":146,"labelOverlap":false,"labelBound":false,"labelFlush":false,"labelExpr":"abs(round(datum.value*10)%5)==0?format(datum.value,'.1f'):''","tickSize":{"condition":{"test":"abs(round(datum.value*10)%5)==0","value":6},"value":3},"labelPadding":12,"labelFont":"Liberation Sans","labelFontSize":10,"labelColor":"#222","domainColor":"#000","tickColor":"#000"}}}},
{"layer":[
{"data":{"values":[{"i":-0.308,"j":370.95,"y":95.2},{"i":-0.308,"j":370.95,"y":5.8}]},"mark":{"type":"rule","color":"#0000ee","strokeWidth":1.3},"encoding":{"x2":{"field":"j"},"y":{"field":"y","type":"quantitative","scale":{"domain":[-4.7,108.9],"range":[878,585],"nice":false,"zero":false},"axis":null}}},
{"data":{"name":"rows"},"mark":{"type":"line","color":"#ff0000","strokeWidth":1.2},"encoding":{"y":{"field":"s","type":"quantitative","axis":null}}}
]},
{"layer":[
{"data":{"values":[{"i":-0.308,"j":370.95,"y":32.08},{"i":-0.308,"j":370.95,"y":24.57},{"i":-0.308,"j":370.95,"y":23.69},{"i":-0.308,"j":370.95,"y":21.7}]},"mark":{"type":"rule","color":"#000","strokeWidth":1.2},"encoding":{"x2":{"field":"j"},"y":{"field":"y","type":"quantitative","scale":{"domain":[21.7,36.338],"range":[585,0],"nice":false,"zero":false},"axis":null}}},
{"data":{"name":"rows"},"mark":{"type":"rule","color":"#000","strokeWidth":1},"encoding":{"y":{"field":"l","type":"quantitative","axis":null},"y2":{"field":"h"}}},
{"data":{"name":"rows"},"mark":{"type":"bar","size":4,"stroke":"#000","strokeWidth":1},"encoding":{"y":{"field":"o","type":"quantitative","axis":null},"y2":{"field":"c"},"fill":{"condition":{"test":"datum.c>=datum.o","value":"#ffffff"},"value":"#000000"}}},
{"data":{"values":[{"i":-0.308,"j":370.95,"y":28.66}]},"mark":{"type":"rule","color":"#0000ee","strokeWidth":2.4},"encoding":{"x2":{"field":"j"},"y":{"field":"y","type":"quantitative","axis":null}}},
{"data":{"values":[{"i":-0.25,"j":67.1,"y":32.1,"w":27.14},{"i":95.3,"j":115,"y":32.49,"w":29.22},{"i":169.1,"j":193.1,"y":33.05,"w":33.05},{"i":155.3,"j":207.9,"y":29.75,"w":33.63},{"i":202.3,"j":288.1,"y":35.35,"w":26.54},{"i":317.2,"j":362.1,"y":22.84,"w":25.56}]},"mark":{"type":"rule","color":"#000","strokeWidth":0.9},"encoding":{"x2":{"field":"j"},"y":{"field":"y","type":"quantitative","axis":null},"y2":{"field":"w"}}},
{"data":{"values":[{"i":42.2,"j":219.1,"y":24.37,"w":33.0},{"i":-0.25,"j":306.1,"y":24.33,"w":25.71}]},"mark":{"type":"rule","color":"#008a00","strokeWidth":2},"encoding":{"x2":{"field":"j"},"y":{"field":"y","type":"quantitative","axis":null},"y2":{"field":"w"}}},
{"data":{"values":[{"i":-0.25,"j":223.2,"y":28.16,"w":30.43}]},"mark":{"type":"rule","color":"#ee0000","strokeWidth":2},"encoding":{"x2":{"field":"j"},"y":{"field":"y","type":"quantitative","axis":null},"y2":{"field":"w"}}},
{"data":{"name":"ellipse"},"mark":{"type":"line","color":"#008a00","strokeWidth":1.6,"interpolate":"cardinal"},"encoding":{"order":{"field":"k","type":"quantitative"},"y":{"field":"y","type":"quantitative","axis":null}}},
{"data":{"values":[{"i":176.1,"y":34.33,"t":"→"},{"i":192.3,"y":33.12,"t":"→"},{"i":204.2,"y":33.52,"t":"→"},{"i":212,"y":32.89,"t":"→"},{"i":217,"y":30.43,"t":"→"},{"i":181.7,"y":33.84,"t":"←"},{"i":196.7,"y":33.02,"t":"←"},{"i":211.7,"y":33.21,"t":"←"},{"i":220.7,"y":32.74,"t":"←"},{"i":227.7,"y":30.38,"t":"←"}]},"mark":{"type":"text","font":"DejaVu Sans","fontWeight":"bold","fontSize":13},"encoding":{"y":{"field":"y","type":"quantitative","axis":null},"text":{"field":"t"},"color":{"condition":{"test":"datum.t=='←'","value":"#ee0000"},"value":"#008a00"}}},
{"data":{"values":[{"i":54.5,"j":128.8,"y":35.96,"w":34.34,"f":"cyan"},{"i":243.6,"j":333.9,"y":34.94,"w":33.56,"f":"yellow"}]},"mark":{"type":"rect","stroke":"#000","strokeWidth":3},"encoding":{"x2":{"field":"j"},"y":{"field":"y","type":"quantitative","axis":null},"y2":{"field":"w"},"fill":{"field":"f","type":"nominal","scale":{"domain":["cyan","yellow"],"range":["#bfffff","#ffff00"]},"legend":null}}},
{"data":{"values":[{"i":303.3,"j":353,"y":22.36,"w":22.02}]},"mark":{"type":"rect","stroke":"#000","strokeWidth":1.5,"fill":"#ffffff"},"encoding":{"x2":{"field":"j"},"y":{"field":"y","type":"quantitative","axis":null},"y2":{"field":"w"}}},
{"data":{"values":[{"i":84.7,"y":35.76,"t":"537"},{"i":55,"y":35.35,"t":"Un grazie ai 537 sostenitori del sito che hanno fatto una"},{"i":55,"y":34.94,"t":"donazione volontaria per mantenere La Borsa dei Piccoli"},{"i":55,"y":34.52,"t":"gratuita per tutti anche quest'anno."}]},"mark":{"type":"text","align":"left","font":"Liberation Sans","fontWeight":"bold","fontSize":13,"color":"#111"},"encoding":{"y":{"field":"y","type":"quantitative","axis":null},"text":{"field":"t"}}},
{"data":{"values":[{"i":244.2,"y":34.72,"t":"Amplifon tranquilla sui 25,85 in close con scambi in calo."},{"i":244.2,"y":34.25,"t":"Stop profit sui 25,3 come indicato già venerdì e proviamo"},{"i":244.2,"y":33.77,"t":"a farla correre."}]},"mark":{"type":"text","align":"left","font":"Liberation Sans","fontWeight":"bold","fontSize":15.8,"color":"#000"},"encoding":{"y":{"field":"y","type":"quantitative","axis":null},"text":{"field":"t"}}},
{"data":{"values":[{"i":303.8,"y":22.19,"t":"COPYRIGHT@ LABORSADEIPICCOLI.COM"}]},"mark":{"type":"text","align":"left","font":"Liberation Sans","fontWeight":"bold","fontSize":11.6,"color":"#000"},"encoding":{"y":{"field":"y","type":"quantitative","axis":null},"text":{"field":"t"}}},
{"data":{"values":[{"i":158.6,"y":36.12,"t":"Amplifon (25.8800, 26.1200, 25.7400, 25.8500, +0.01000)"}]},"mark":{"type":"text","align":"left","font":"Liberation Sans","fontSize":10,"color":"#333"},"encoding":{"y":{"field":"y","type":"quantitative","axis":null},"text":{"field":"t"}}},
{"data":{"values":[{"i":46.2,"y":23.95,"t":"1"},{"i":301.1,"y":24.07,"t":"2"}]},"mark":{"type":"point","filled":true,"size":190,"color":"#0000ee","opacity":1},"encoding":{"y":{"field":"y","type":"quantitative","axis":null}}},
{"data":{"values":[{"i":46.2,"y":23.95,"t":"1"},{"i":301.1,"y":24.07,"t":"2"}]},"mark":{"type":"text","font":"Liberation Sans","fontWeight":"bold","fontSize":12,"color":"#ffffff"},"encoding":{"y":{"field":"y","type":"quantitative","axis":null},"text":{"field":"t"}}}
]},
{"layer":[
{"data":{"values":[{"i":371.25,"j":375.1,"y":2934,"w":1555}]},"mark":{"type":"rect","fill":"#ffffff","stroke":"#777","strokeWidth":1},"encoding":{"x2":{"field":"j"},"y":{"field":"y","type":"quantitative","scale":{"domain":[1417,41830],"range":[878,585],"nice":false,"zero":false},"axis":null},"y2":{"field":"w"}}},
{"data":{"values":[{"i":373.2,"y":2240,"t":"x100"}]},"mark":{"type":"text","font":"Liberation Sans","fontSize":8.5,"color":"#444"},"encoding":{"y":{"field":"y","type":"quantitative","axis":null},"text":{"field":"t"}}}
]},
{"layer":[
{"data":{"values":[{"i":-0.308,"j":370.95,"y":0},{"i":-0.308,"j":370.95,"y":14}]},"mark":{"type":"rule","color":"#000","strokeWidth":1.2},"encoding":{"x2":{"field":"j"},"y":{"field":"y","type":"quantitative","scale":{"domain":[0,25],"range":[878,903],"nice":false,"zero":false},"axis":null}}},
{"data":{"name":"weeks"},"mark":{"type":"rule","color":"#000","strokeWidth":1},"encoding":{"y":{"datum":0,"type":"quantitative","axis":null},"y2":{"datum":14}}},
{"data":{"name":"months"},"mark":{"type":"rule","color":"#000","strokeWidth":1},"encoding":{"y":{"datum":14,"type":"quantitative","axis":null},"y2":{"datum":25}}},
{"data":{"name":"weeks"},"mark":{"type":"text","align":"left","dx":2.5,"font":"Liberation Sans","fontSize":11,"color":"#222"},"encoding":{"y":{"datum":7.2,"type":"quantitative","axis":null},"text":{"field":"t"}}},
{"data":{"name":"months"},"mark":{"type":"text","align":"left","dx":2,"font":"Liberation Sans","fontSize":11,"color":"#222"},"encoding":{"y":{"datum":20,"type":"quantitative","axis":null},"text":{"field":"t"}}}
]}
]}
